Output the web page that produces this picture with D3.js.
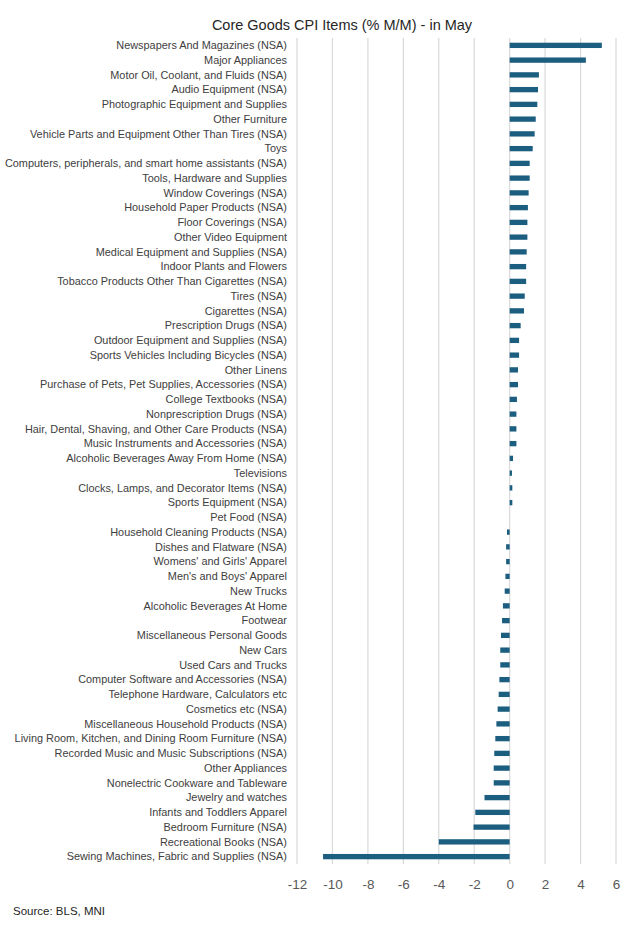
<!DOCTYPE html>
<html>
<head>
<meta charset="utf-8">
<script src="https://cdn.jsdelivr.net/npm/d3@7"></script>
<style>
  body { margin: 0; background: #fff; }
  svg text { font-family: "Liberation Sans", Arial, sans-serif; }
</style>
</head>
<body>
<svg id="chart" width="631" height="929"></svg>
<script>
// categories, top to bottom
const items = [
  "Newspapers And Magazines (NSA)",
  "Major Appliances",
  "Motor Oil, Coolant, and Fluids (NSA)",
  "Audio Equipment (NSA)",
  "Photographic Equipment and Supplies",
  "Other Furniture",
  "Vehicle Parts and Equipment Other Than Tires (NSA)",
  "Toys",
  "Computers, peripherals, and smart home assistants (NSA)",
  "Tools, Hardware and Supplies",
  "Window Coverings (NSA)",
  "Household Paper Products (NSA)",
  "Floor Coverings (NSA)",
  "Other Video Equipment",
  "Medical Equipment and Supplies (NSA)",
  "Indoor Plants and Flowers",
  "Tobacco Products Other Than Cigarettes (NSA)",
  "Tires (NSA)",
  "Cigarettes (NSA)",
  "Prescription Drugs (NSA)",
  "Outdoor Equipment and Supplies (NSA)",
  "Sports Vehicles Including Bicycles (NSA)",
  "Other Linens",
  "Purchase of Pets, Pet Supplies, Accessories (NSA)",
  "College Textbooks (NSA)",
  "Nonprescription Drugs (NSA)",
  "Hair, Dental, Shaving, and Other Care Products (NSA)",
  "Music Instruments and Accessories (NSA)",
  "Alcoholic Beverages Away From Home (NSA)",
  "Televisions",
  "Clocks, Lamps, and Decorator Items (NSA)",
  "Sports Equipment (NSA)",
  "Pet Food (NSA)",
  "Household Cleaning Products (NSA)",
  "Dishes and Flatware (NSA)",
  "Womens' and Girls' Apparel",
  "Men's and Boys' Apparel",
  "New Trucks",
  "Alcoholic Beverages At Home",
  "Footwear",
  "Miscellaneous Personal Goods",
  "New Cars",
  "Used Cars and Trucks",
  "Computer Software and Accessories (NSA)",
  "Telephone Hardware, Calculators etc",
  "Cosmetics etc (NSA)",
  "Miscellaneous Household Products (NSA)",
  "Living Room, Kitchen, and Dining Room Furniture (NSA)",
  "Recorded Music and Music Subscriptions (NSA)",
  "Other Appliances",
  "Nonelectric Cookware and Tableware",
  "Jewelry and watches",
  "Infants and Toddlers Apparel",
  "Bedroom Furniture (NSA)",
  "Recreational Books (NSA)",
  "Sewing Machines, Fabric and Supplies (NSA)"
];

// % M/M change, same order
const changes = [
  5.2, 4.3, 1.65, 1.6, 1.56, 1.47, 1.41, 1.3, 1.13, 1.13,
  1.07, 1.03, 1.0, 1.0, 0.96, 0.93, 0.93, 0.85, 0.81, 0.62,
  0.53, 0.53, 0.47, 0.47, 0.41, 0.38, 0.38, 0.38, 0.19, 0.13,
  0.15, 0.15, 0.0, -0.15, -0.2, -0.2, -0.24, -0.28, -0.38, -0.43,
  -0.49, -0.53, -0.53, -0.58, -0.62, -0.68, -0.75, -0.81, -0.87, -0.9,
  -0.9, -1.42, -1.94, -2.04, -4.0, -10.53
];

const xTicks = [-12, -10, -8, -6, -4, -2, 0, 2, 4, 6];

const title = "Core Goods CPI Items (% M/M) - in May";
const source = "Source: BLS, MNI";

const data = items.map((name, i) => ({ name: name, value: changes[i] }));

var svg = d3.select("#chart"),
    margin = { top: 38, right: 15, bottom: 65, left: 297 },
    chartWidth = svg.attr("width") - margin.left - margin.right,
    chartHeight = svg.attr("height") - margin.top - margin.bottom;

//scales
const x = d3.scaleLinear()
    .domain([-12, 6])
    .range([margin.left, margin.left + 319]);

const y = d3.scaleBand()
    .domain(items)
    .range([margin.top, margin.top + chartHeight])
    .paddingInner(0.64)
    .paddingOuter(0.32);

//gridlines
svg.append("g")
  .selectAll("line")
  .data(xTicks)
  .enter()
  .append("line")
    .attr("x1", d => x(d))
    .attr("x2", d => x(d))
    .attr("y1", margin.top)
    .attr("y2", margin.top + chartHeight)
    .attr("stroke", "#d9d9d9")
    .attr("stroke-width", 1.2);

//bars
svg.append("g")
  .selectAll("rect")
  .data(data)
  .enter()
  .append("rect")
    .attr("x", d => x(Math.min(0, d.value)))
    .attr("width", d => Math.abs(x(d.value) - x(0)))
    .attr("y", d => y(d.name))
    .attr("height", y.bandwidth())
    .attr("fill", "#1b5e80");

//category labels
svg.append("g")
  .selectAll("text")
  .data(data)
  .enter()
  .append("text")
    .attr("x", 287)
    .attr("y", d => y(d.name) + y.bandwidth() / 2)
    .attr("dy", "0.35em")
    .attr("text-anchor", "end")
    .attr("font-size", "10.9px")
    .attr("fill", "#404040")
    .text(d => d.name);

// x axis labels (plain hyphen for minus, as in the original)
const xAxis = svg.append("g")
  .attr("transform", "translate(0," + (margin.top + chartHeight) + ")")
  .call(d3.axisBottom(x).tickValues(xTicks).tickSize(0).tickPadding(15)
    .tickFormat(d => String(d)));
xAxis.select(".domain").remove();
xAxis.selectAll("text")
  .attr("font-size", "13.5px")
  .attr("fill", "#595959")
  .style("font-family", "'Liberation Sans', Arial, sans-serif");

//title
svg.append("text")
  .attr("x", 342)
  .attr("y", 30)
  .attr("text-anchor", "middle")
  .attr("font-size", "14.5px")
  .attr("fill", "#262626")
  .text(title);

//source
svg.append("text")
  .attr("x", 13)
  .attr("y", 915)
  .attr("font-size", "11.5px")
  .attr("fill", "#262626")
  .text(source);
</script>
</body>
</html>
